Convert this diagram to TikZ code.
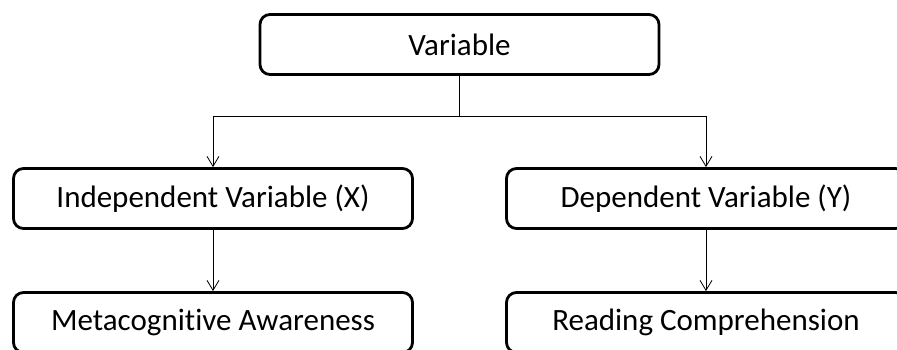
\documentclass[tikz,border=0pt]{standalone}
\usepackage{fontspec}
\setmainfont{Carlito}[Ligatures=NoCommon]
\usetikzlibrary{arrows.meta}
\begin{document}
\begin{tikzpicture}[x=1pt,y=-1pt,
  varbox/.style={draw=black,line width=2.8pt,rounded corners=10pt,fill=white,
    minimum width=399pt,minimum height=60pt,inner sep=0pt,font=\fontsize{31}{34}\selectfont},
  link/.style={draw=black,line width=0.8pt},
  linkarrow/.style={link,-{Straight Barb[length=10pt,width=12pt,line width=0.8pt]}}]
  \useasboundingbox (0,0) rectangle (897,349);
  \node[varbox] (var) at (459.5,44.5) {Variable};
  \node[varbox] (indep) at (213,198.5) {Independent Variable (X)};
  \node[varbox] (dep) at (706,198.5) {Dependent Variable (Y)};
  \node[varbox] (meta) at (213,322.5) {Metacognitive Awareness};
  \node[varbox] (read) at (706,322.5) {Reading Comprehension};
  \coordinate (split) at (459.5,116);
  \draw[link] (var.south) -- (split);
  \draw[linkarrow] (split) -| (indep.north);
  \draw[linkarrow] (split) -| (dep.north);
  \draw[linkarrow] (indep.south) -- (meta.north);
  \draw[linkarrow] (dep.south) -- (read.north);
\end{tikzpicture}
\end{document}
